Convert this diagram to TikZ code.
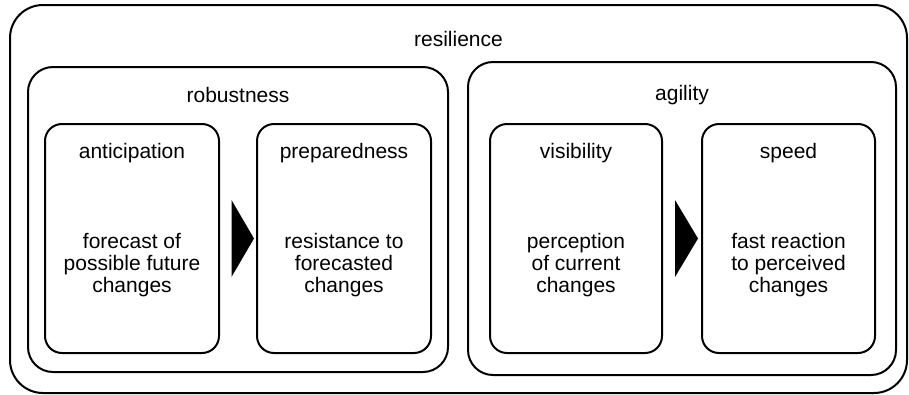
\documentclass[tikz,border=0pt]{standalone}
\usepackage{fontspec}
\setmainfont{Liberation Sans}
\usetikzlibrary{calc,positioning}

\tikzset{
  frame/.style={draw, line width=2pt, rounded corners=#1, inner sep=0pt},
  ttl/.style={font=\fontsize{21}{22}\selectfont, inner sep=0pt},
  desc/.style={font=\fontsize{21}{22}\selectfont, align=center, inner sep=0pt},
  step box/.style={frame=17pt, minimum width=174pt, minimum height=229pt},
}

\begin{document}
\begin{tikzpicture}[x=1pt,y=-1pt]
  \useasboundingbox (0,0) rectangle (909,394);
  % resilience
  \node[frame=33pt, minimum width=897pt, minimum height=388pt] (res) at (458.5,199) {};
  \node[ttl] (resT) at ($(res.north)+(0,35)$) {resilience};
  % robustness
  \node[frame=25pt, minimum width=420pt, minimum height=305pt] (rob) at (238,219.5) {};
  \node[ttl] (robT) at ($(rob.north)+(0,29)$) {robustness};
  \node[step box] (ant) at (132,238.5) {};
  \node[ttl] (antT) at ($(ant.north)+(0,30)$) {anticipation};
  \node[desc] (antD) at ($(ant.center)+(0,26.5)$) {forecast of\\possible future\\changes};
  \node[step box] (pre) at (344,238.5) {};
  \node[ttl] (preT) at ($(pre.north)+(0,30)$) {preparedness};
  \node[desc] (preD) at ($(pre.center)+(0,26.5)$) {resistance to\\forecasted\\changes};
  \fill ($(ant.east)+(11.5,-38.5)$) -- ($(ant.east)+(34,0)$) -- ($(ant.east)+(11.5,38.5)$) -- cycle;
  % agility
  \node[frame=25pt, minimum width=428pt, minimum height=313pt] (agi) at (682,218.5) {};
  \node[ttl] (agiT) at ($(agi.north)+(0,34)$) {agility};
  \node[step box, minimum width=172pt] (vis) at (576,238.5) {};
  \node[ttl] (visT) at ($(vis.north)+(0,30)$) {visibility};
  \node[desc] (visD) at ($(vis.center)+(0,26.5)$) {perception\\of current\\changes};
  \node[step box, minimum width=173pt] (spd) at (788.5,238.5) {};
  \node[ttl] (spdT) at ($(spd.north)+(0,30)$) {speed};
  \node[desc] (spdD) at ($(spd.center)+(0,26.5)$) {fast reaction\\to perceived\\changes};
  \fill ($(vis.east)+(12,-38.5)$) -- ($(vis.east)+(35,0)$) -- ($(vis.east)+(12,38.5)$) -- cycle;
\end{tikzpicture}
\end{document}
